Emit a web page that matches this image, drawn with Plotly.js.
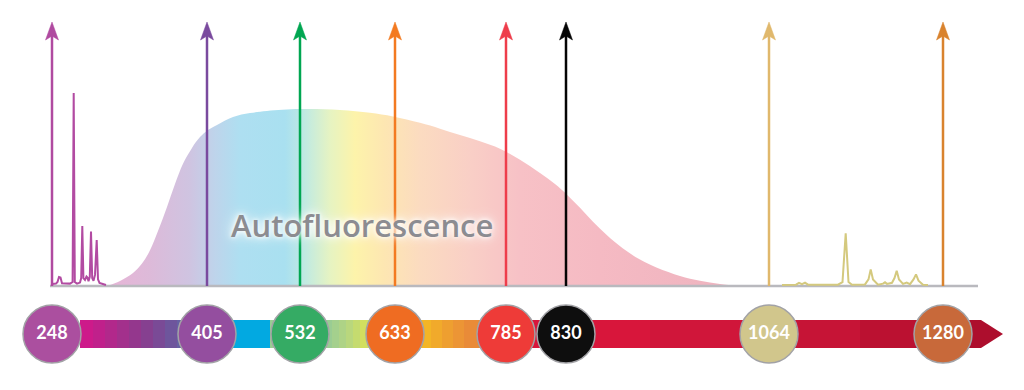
<!DOCTYPE html>
<html>
<head>
<meta charset="utf-8">
<script src="https://cdn.plot.ly/plotly-3.0.1.min.js"></script>
<style>html,body{margin:0;padding:0;background:#fff;}#chart{width:1024px;height:390px;}</style>
</head>
<body>
<div id="chart"></div>
<script>
// ---- Data (schematic wavelength axis; intensity in a.u., laser arrow = 100) ----
const laserNm = ['248', '405', '532', '633', '785', '830', '1064', '1280'];
const laserPos = [52, 207, 300, 395, 506, 566, 769, 943];
const arrowColors = ['#b04aa0', '#7a4a9e', '#00a651', '#f37a21', '#ee3d4b', '#050505', '#e0b86c', '#d9832e'];
const badgeColors = ['#ab4f9f', '#944e9f', '#35ab64', '#ef6c22', '#ee3b38', '#0e0e0e', '#d1c68c', '#c8693a'];

// Autofluorescence envelope
const afX = [105, 110, 120, 133, 142, 150, 158, 167, 175, 183, 192, 200, 208, 217, 233, 250, 267, 300, 340, 370, 393, 420, 440, 460, 480, 500, 520, 540, 555, 567, 580, 593, 607, 623, 640, 657, 680, 700, 720, 740];
const afY = [0, 0.4, 1.9, 4.9, 8.5, 13.5, 20.8, 29.9, 38.6, 46.3, 52.3, 56.4, 59.1, 61.0, 64.0, 65.5, 66.3, 67.0, 66.7, 65.6, 64.2, 61.8, 59.6, 57.2, 54.8, 52.0, 47.8, 42.8, 38.6, 34.6, 29.6, 24.3, 19.2, 14.2, 10.0, 6.9, 3.8, 2.0, 0.8, 0];

// Emission lines near 248 nm
const uvX = [52, 56, 57.5, 59, 60.5, 62, 70, 72.6, 73.7, 74.8, 77, 80, 81.2, 82.3, 83.4, 85, 86.5, 87.5, 88.5, 89.8, 91, 92.2, 93.5, 95, 96.7, 98, 99.5, 102, 106];
const uvY = [0.8, 0.9, 1.5, 3.4, 3.2, 1.0, 0.9, 1.5, 73.1, 1.5, 0.9, 1.3, 3.0, 22.7, 3.0, 2.3, 3.6, 3.2, 1.8, 3.5, 20.6, 3.0, 2.0, 4.2, 17.4, 2.5, 1.2, 0.8, 0.4];

// Raman spectrum near 1064 nm
const ramanX = [782, 796, 799, 802, 805, 808, 838, 842.5, 845.7, 848.5, 852, 865, 868.5, 870.7, 873, 878, 883, 885, 887, 892, 894.5, 896.7, 899, 903, 906.7, 910, 913.5, 916, 918.5, 923, 928];
const ramanY = [0.4, 0.5, 1.2, 0.7, 1.3, 0.5, 0.5, 1.5, 20, 1.5, 0.5, 0.6, 2.5, 6.3, 2.5, 0.5, 0.9, 1.4, 0.8, 1.2, 3.0, 5.8, 2.5, 0.8, 1.3, 0.7, 2.5, 4.4, 2.0, 0.5, 0.4];

// Colour bands of the wavelength bar: [from, to, colour]
const barBands = [
  [80, 93, '#cd1a8a'], [93, 105, '#c0208b'], [105, 117, '#b2288b'], [117, 129, '#a3308c'],
  [129, 141, '#94378d'], [141, 153, '#864090'], [153, 165, '#7a4a96'], [165, 177, '#6e559c'],
  [177, 190, '#6660a3'], [190, 270, '#02a9e1'], [270, 332, '#9acc93'], [332, 339, '#a4d08d'],
  [339, 346, '#aed386'], [346, 353, '#b9d77d'], [353, 360, '#c5db6f'], [360, 380, '#d2df5f'],
  [380, 431, '#f3b526'], [431, 442, '#f1aa2b'], [442, 453, '#ee9f30'], [453, 464, '#ec9535'],
  [464, 490, '#e98b38'], [490, 650, '#d8163b'], [650, 760, '#d0163a'], [760, 860, '#c61436'],
  [860, 940, '#bb1131'], [940, 1003, '#ad0e2d']
];

// Autofluorescence colour stops: [x, colour]
const afStops = [
  [105, '#e8b4d6'], [150, '#ddbad9'], [190, '#cfc4e1'], [215, '#bed4eb'], [240, '#aedff1'],
  [285, '#a9e0f0'], [308, '#c4ebdf'], [330, '#e6f3c2'], [355, '#fdf3aa'], [385, '#fde6b2'],
  [420, '#fbdbc0'], [470, '#f9cfc6'], [520, '#f7c1c6'], [600, '#f5bac3'], [740, '#eeb3bf']
];

// ---- Layout constants ----
const W = 1024, H = 390;
const PX = 2.64;               // px per intensity unit
const BASE_PX = 286;           // baseline pixel row
const yTop = BASE_PX / PX, yBot = -(H - BASE_PX) / PX;
const BADGE_Y = -(334 - BASE_PX) / PX;
const BAR_HALF = 14 / PX;
const BAR_X0 = 80, BAR_X1 = 981, BAR_TIP = 1003;
const HEAD_H = 18 / PX, HEAD_NOTCH = 14 / PX, HEAD_W = 6.5, TIP_Y = (BASE_PX - 22) / PX;

const traces = [];

// autofluorescence area
const afMin = afX[0], afMax = afX[afX.length - 1];
traces.push({
  x: afX, y: afY, mode: 'lines', type: 'scatter', fill: 'tozeroy',
  line: {width: 0, shape: 'spline', smoothing: 1, color: 'rgba(0,0,0,0)'},
  fillcolor: '#f5c6cc',
  fillgradient: {type: 'horizontal', start: afMin, stop: afMax,
    colorscale: afStops.map(s => [(s[0] - afMin) / (afMax - afMin), s[1]])},
  hoverinfo: 'skip'
});

// baseline
traces.push({x: [50, 978], y: [0, 0], mode: 'lines', line: {color: '#b9b9be', width: 2.5}, hoverinfo: 'skip'});

// spectra
traces.push({x: uvX, y: uvY, mode: 'lines', line: {color: '#b24ba2', width: 2}, hoverinfo: 'skip'});
traces.push({x: ramanX, y: ramanY, mode: 'lines', line: {color: '#d4c97e', width: 2}, hoverinfo: 'skip'});

// laser arrows
laserPos.forEach((p, i) => {
  traces.push({x: [p, p], y: [0, TIP_Y - HEAD_NOTCH + 0.5], mode: 'lines',
    line: {color: arrowColors[i], width: 2.5}, hoverinfo: 'skip'});
  traces.push({x: [p, p - HEAD_W, p, p + HEAD_W, p], y: [TIP_Y, TIP_Y - HEAD_H, TIP_Y - HEAD_NOTCH, TIP_Y - HEAD_H, TIP_Y],
    mode: 'lines', fill: 'toself', fillcolor: arrowColors[i], line: {color: arrowColors[i], width: 0.5}, hoverinfo: 'skip'});
});

// wavelength bar with stepped gradient
const barStops = [];
barBands.forEach(b => {
  barStops.push([(b[0] - BAR_X0) / (BAR_TIP - BAR_X0), b[2]]);
  barStops.push([(b[1] - BAR_X0) / (BAR_TIP - BAR_X0), b[2]]);
});
barStops[0][0] = 0; barStops[barStops.length - 1][0] = 1;
traces.push({
  x: [BAR_X0, BAR_X1, BAR_TIP, BAR_X1, BAR_X0, BAR_X0],
  y: [BADGE_Y + BAR_HALF, BADGE_Y + BAR_HALF, BADGE_Y, BADGE_Y - BAR_HALF, BADGE_Y - BAR_HALF, BADGE_Y + BAR_HALF],
  mode: 'lines', fill: 'toself', line: {width: 0, color: 'rgba(0,0,0,0)'}, fillcolor: '#c61436',
  fillgradient: {type: 'horizontal', start: BAR_X0, stop: BAR_TIP, colorscale: barStops},
  hoverinfo: 'skip'
});

// laser badges
traces.push({
  x: laserPos, y: laserPos.map(() => BADGE_Y), mode: 'markers+text', text: laserNm,
  textposition: 'middle center',
  textfont: {family: 'Lato, "Open Sans", sans-serif', size: 18, color: '#ffffff', weight: 700},
  marker: {size: 58, color: badgeColors, line: {color: '#a2a2a6', width: 1.5}},
  cliponaxis: false, hoverinfo: 'skip'
});

const layout = {
  width: W, height: H,
  margin: {l: 0, r: 0, t: 0, b: 0, pad: 0},
  paper_bgcolor: '#ffffff', plot_bgcolor: '#ffffff',
  showlegend: false, hovermode: false,
  xaxis: {range: [0, W], visible: false, fixedrange: true},
  yaxis: {range: [yBot, yTop], visible: false, fixedrange: true},
  annotations: [{
    x: 362, y: (BASE_PX - 225) / PX, xref: 'x', yref: 'y', showarrow: false,
    text: 'Autofluorescence', xanchor: 'center', yanchor: 'middle',
    font: {family: '"Open Sans", sans-serif', size: 31, color: '#8c8c91', weight: 600,
      shadow: '#ffffff 0px 0px 4px, #ffffff 0px 0px 9px, #ffffff 0px 0px 16px'}
  }]
};

Plotly.newPlot('chart', traces, layout, {staticPlot: true, displayModeBar: false});
</script>
</body>
</html>
